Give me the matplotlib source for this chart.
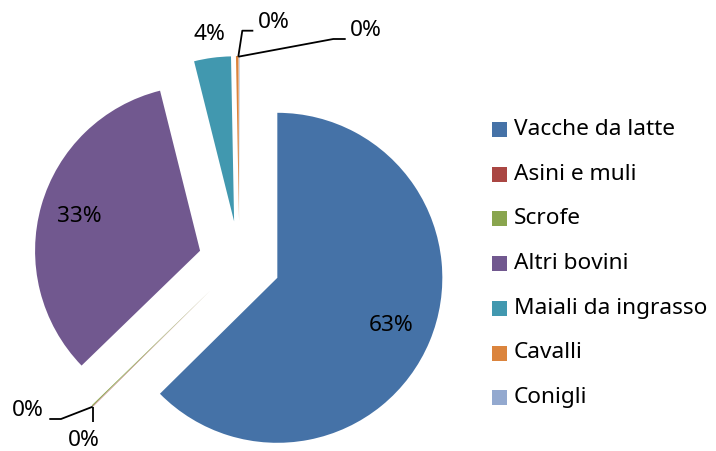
import numpy as np
import matplotlib.pyplot as plt
from matplotlib.patches import Rectangle

plt.rcParams['font.family'] = ['Noto Sans', 'DejaVu Sans']

categories = ["Vacche da latte", "Asini e muli", "Scrofe", "Altri bovini",
              "Maiali da ingrasso", "Cavalli", "Conigli"]
values = [62.6, 0.05, 0.1, 33.35, 3.6, 0.25, 0.05]
colors = ["#4572A7", "#AA4643", "#89A54E", "#71588F", "#4198AF", "#DB843D", "#93A9CF"]

W, H = 716, 451


def Y(y):
    # pixel row (from top) -> data y
    return H - y


fig = plt.figure(figsize=(W / 100, H / 100), dpi=100)
ax = fig.add_axes([0, 0, 1, 1])

R = 165
wedges, _ = ax.pie(values, colors=colors, startangle=90, counterclock=False,
                   radius=R, center=(239.5, Y(262)), explode=[41] * len(values),
                   wedgeprops=dict(linewidth=0))
ax.set_xlim(0, W)
ax.set_ylim(0, H)
ax.set_aspect('equal')
ax.axis('off')

total = sum(values)
pct = [f"{v / total * 100:.0f}%" for v in values]
fs = 16.3


def at(w, frac):
    m = np.deg2rad((w.theta1 + w.theta2) / 2)
    cx, cy = w.center
    return cx + frac * w.r * np.cos(m), cy + frac * w.r * np.sin(m)


# big slices: labels inside, Maiali outside
for i, frac in [(0, 0.75), (3, 0.76), (4, 1.14)]:
    x, y = at(wedges[i], frac)
    ax.text(x, y, pct[i], fontsize=fs, ha='center', va='center')

# tiny slices with leader lines
lk = dict(color='black', lw=1.3, solid_capstyle='butt')
ax.plot([92.7, 61, 49.3], [Y(406.7), Y(419), Y(419)], **lk)
ax.text(28, Y(410), pct[1], fontsize=fs, ha='center', va='center')
ax.plot([92.7, 92.7], [Y(406.7), Y(422.3)], **lk)
ax.text(84, Y(440), pct[2], fontsize=fs, ha='center', va='center')
ax.plot([238.3, 242.3, 253.3], [Y(56.7), Y(30.7), Y(30.7)], **lk)
ax.text(274, Y(23), pct[5], fontsize=fs, ha='center', va='center')
ax.plot([238.3, 333.3, 345.7], [Y(56.7), Y(39), Y(39)], **lk)
ax.text(366, Y(31), pct[6], fontsize=fs, ha='center', va='center')

# legend
for k, (name, c) in enumerate(zip(categories, colors)):
    yc = 129.5 + k * 44.7
    ax.add_patch(Rectangle((492, Y(yc + 7.5)), 15, 15, facecolor=c, edgecolor='none'))
    ax.text(514, Y(yc), name, fontsize=fs, ha='left', va='center')

fig.savefig("out.png", dpi=100)
